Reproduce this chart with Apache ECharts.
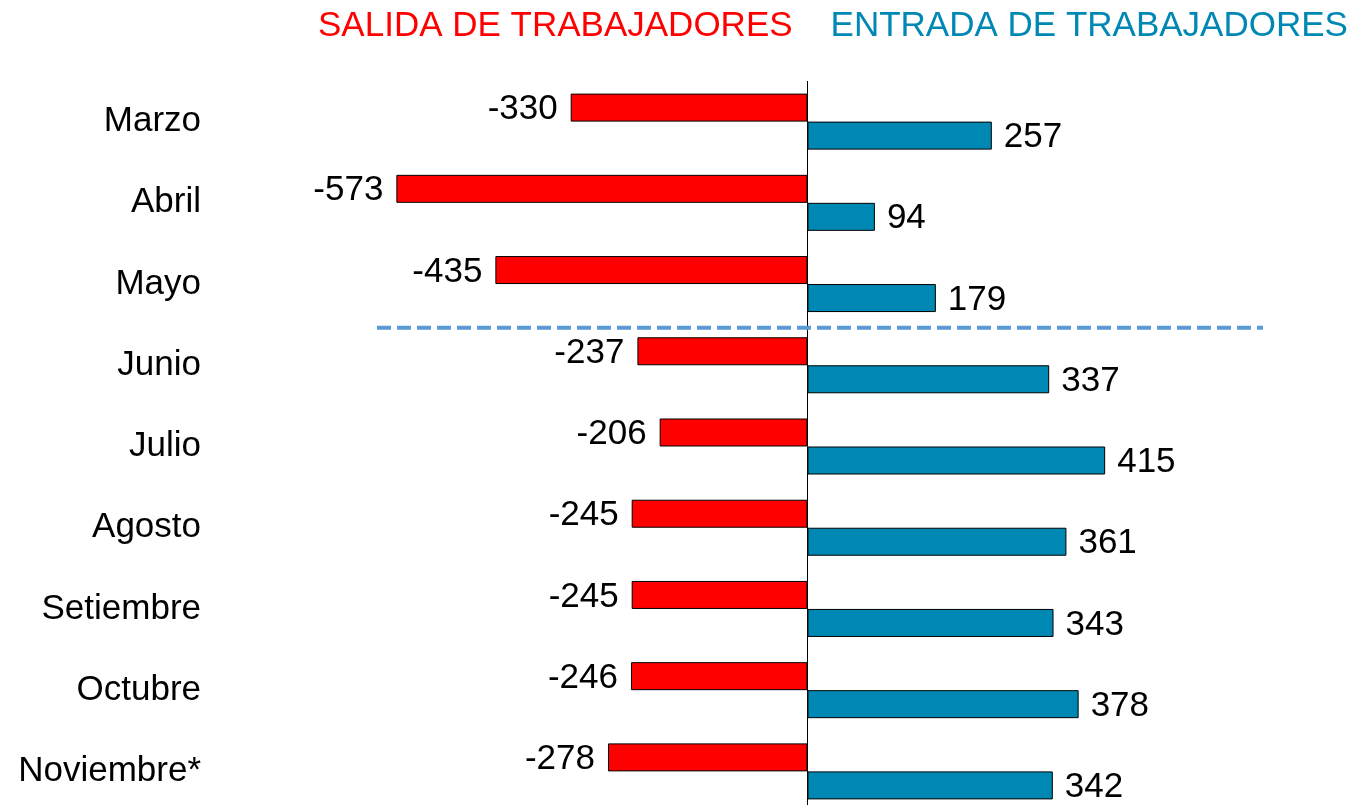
<!DOCTYPE html>
<html>
<head>
<meta charset="utf-8">
<script src="https://cdn.jsdelivr.net/npm/echarts@6/dist/echarts.min.js"></script>
<style>html,body{margin:0;padding:0;background:#fff;overflow:hidden;}#c{width:1353px;height:812px;}</style>
</head>
<body>
<div id="c"></div>
<script>
const categories = ['Marzo','Abril','Mayo','Junio','Julio','Agosto','Setiembre','Octubre','Noviembre*'];
const salida = [-330,-573,-435,-237,-206,-245,-245,-246,-278];
const entrada = [257,94,179,337,415,361,343,378,342];
const seriesNames = ['SALIDA DE TRABAJADORES','ENTRADA DE TRABAJADORES'];

const FONT = '"Liberation Sans", Arial, sans-serif';
const RED = '#FF0000';
const BLUE = '#0088B4';

const chart = echarts.init(document.getElementById('c'), null, {renderer:'canvas'});
const option = {
  animation:false,
  backgroundColor:'#fff',
  legend:{
    left:307, top:4, width:1100, itemWidth:0, itemHeight:0, itemGap:32, icon:'rect',
    textStyle:{fontFamily:FONT, fontSize:35},
    data:[
      {name:seriesNames[0], textStyle:{color:RED}},
      {name:seriesNames[1], textStyle:{color:BLUE}}
    ],
    selectedMode:false
  },
  grid:{left:377, top:81, right:90, bottom:0, containLabel:false},
  xAxis:{type:'value', min:-600, max:635, show:false, splitLine:{show:false}},
  yAxis:{
    type:'category', data:categories, inverse:true,
    axisLine:{show:false}, axisTick:{show:false},
    axisLabel:{margin:176, fontFamily:FONT, fontSize:35, color:'#000', padding:[3,0,0,0]}
  },
  series:[
    {
      name:seriesNames[0], type:'bar', data:salida, barWidth:28, barGap:'0%',
      itemStyle:{color:RED, borderColor:'#000', borderWidth:1},
      label:{show:true, position:'left', distance:13, offset:[0,2], fontFamily:FONT, fontSize:35, color:'#000'}
    },
    {
      name:seriesNames[1], type:'bar', data:entrada, barWidth:28, barGap:'0%',
      itemStyle:{color:BLUE, borderColor:'#000', borderWidth:1},
      label:{show:true, position:'right', distance:12, offset:[0,2], fontFamily:FONT, fontSize:35, color:'#000'},
      markLine:{silent:true, symbol:['none','none'], label:{show:false},
        lineStyle:{color:'#000', width:1, type:'solid'},
        data:[{xAxis:0}]}
    }
  ]
};
chart.setOption(option);

// dashed separator between Mayo and Junio, placed through the axes
const yMayo = chart.convertToPixel({yAxisIndex:0}, categories[2]);
const yJunio = chart.convertToPixel({yAxisIndex:0}, categories[3]);
const x0 = chart.convertToPixel({xAxisIndex:0}, -600);
const x1 = chart.convertToPixel({xAxisIndex:0}, 635);
const ySep = (yMayo + yJunio) / 2 + 3;
chart.setOption({
  graphic:[{type:'line', shape:{x1:x0, y1:ySep, x2:x1, y2:ySep},
    style:{stroke:'#5B9BD5', lineWidth:4, lineDash:[14,6]}, z:10}]
});
</script>
</body>
</html>
